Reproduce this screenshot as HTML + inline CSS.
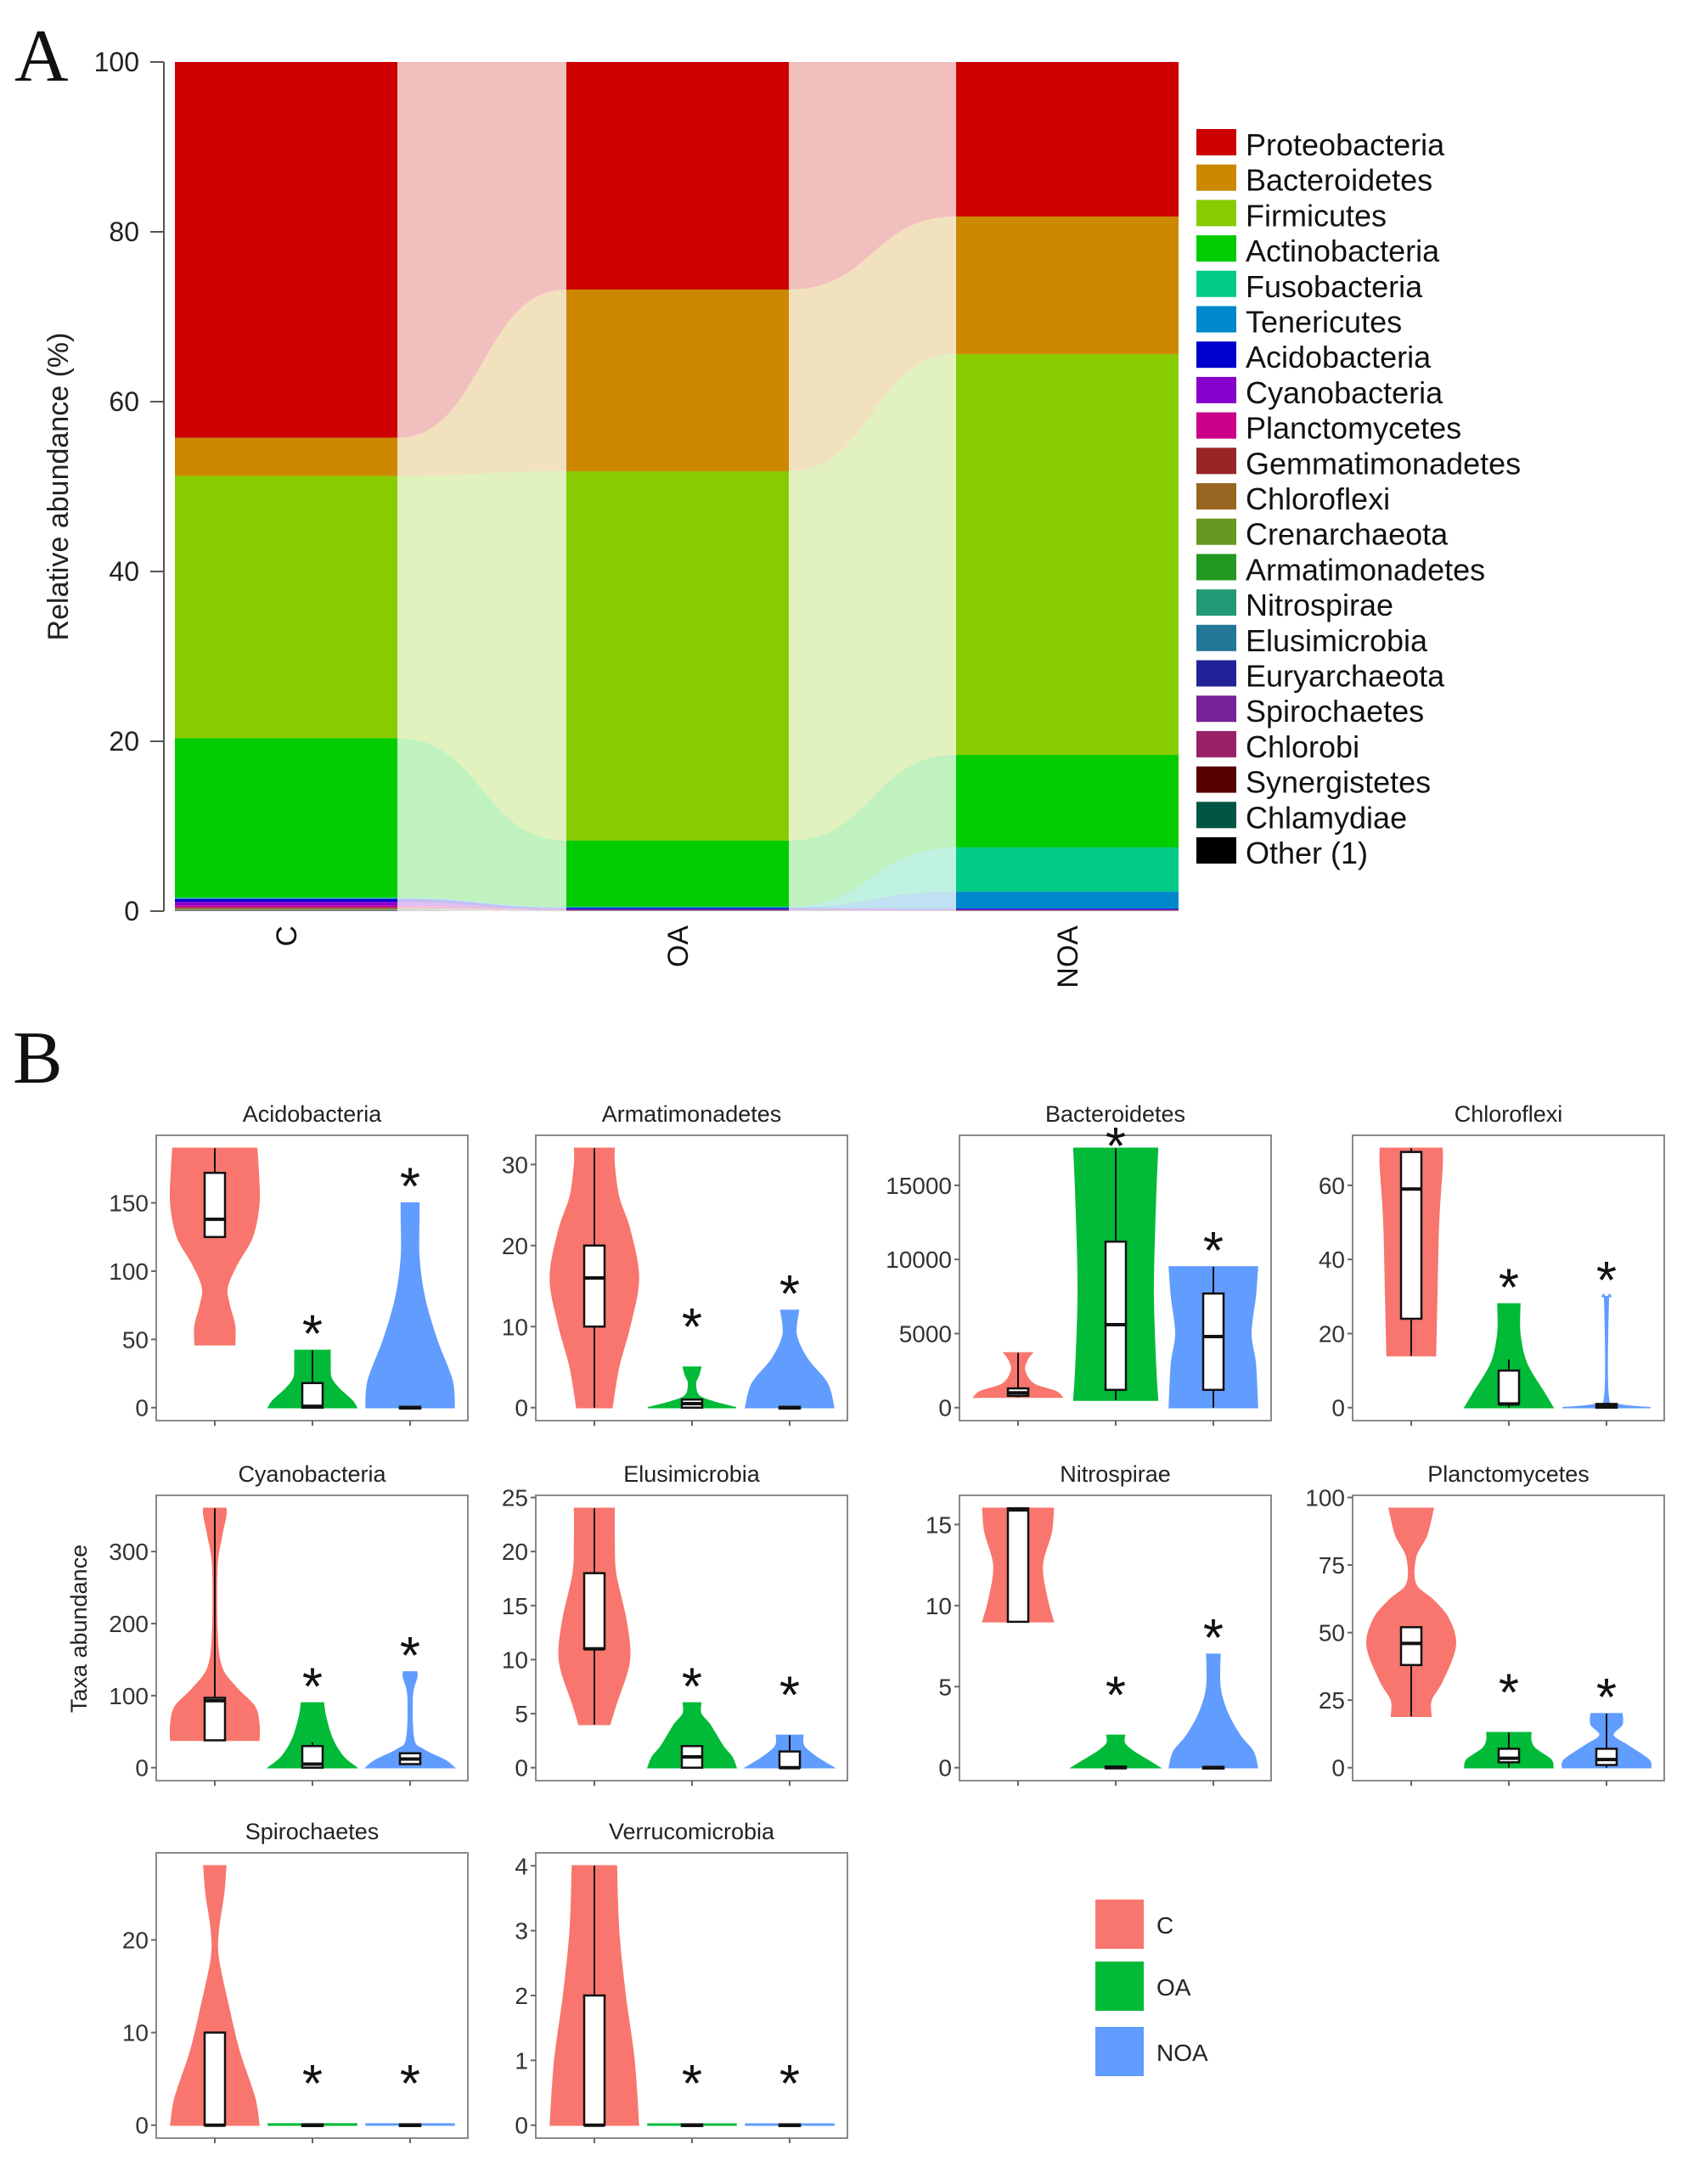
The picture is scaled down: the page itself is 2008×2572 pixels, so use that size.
<!DOCTYPE html>
<html><head><meta charset="utf-8">
<style>
html,body{margin:0;padding:0;background:#fff;}
svg{display:block;font-family:"Liberation Sans",sans-serif;}
</style></head>
<body>
<svg id="fig" width="2008" height="2572" viewBox="0 0 2008 2572" xmlns="http://www.w3.org/2000/svg">
<rect x="0" y="0" width="2008" height="2572" fill="#fff"/>
<text x="17" y="95" font-family="Liberation Serif,serif" font-size="88" fill="#111">A</text>
<text x="15" y="1275" font-family="Liberation Serif,serif" font-size="88" fill="#111">B</text>
<g id="panelA"></g>
<g id="panelB"></g>
</svg>
<script>
// ---------- Panel A data ----------
const groupsA = ["C","OA","NOA"];
const phyla = ["Proteobacteria","Bacteroidetes","Firmicutes","Actinobacteria","Fusobacteria","Tenericutes","Acidobacteria","Cyanobacteria","Planctomycetes","Gemmatimonadetes","Chloroflexi","Crenarchaeota","Armatimonadetes","Nitrospirae","Elusimicrobia","Euryarchaeota","Spirochaetes","Chlorobi","Synergistetes","Chlamydiae","Other (1)"];
const phylaColors = ["#CC0000","#CC8800","#88CC00","#00CC00","#00CC88","#0088CC","#0000CC","#8800CC","#CC0088","#992626","#996622","#669922","#229922","#229977","#227799","#222299","#772299","#992266","#550000","#005544","#000000"];
const valsC   = [44.3,4.5,30.9,18.8,0.05,0.1,0.35,0.45,0.2,0.1,0.1,0.05,0.05,0.02,0.02,0.02,0.02,0.02,0.02,0.01,0.0];
const valsOA  = [26.8,21.4,43.5,7.8,0.05,0.1,0.15,0.05,0.05,0.03,0.02,0.01,0.01,0.01,0.01,0.01,0.01,0.0,0.0,0.0,0.0];
const valsNOA = [18.2,16.2,47.2,10.9,5.2,2.0,0.1,0.05,0.05,0.03,0.02,0.01,0.01,0.01,0.01,0.0,0.0,0.0,0.0,0.0,0.0];
const yTicksA = [0,20,40,60,80,100];

// ---------- Panel B data ----------
const taxa = ["Acidobacteria","Armatimonadetes","Bacteroidetes","Chloroflexi","Cyanobacteria","Elusimicrobia","Nitrospirae","Planctomycetes","Spirochaetes","Verrucomicrobia"];
const ticksB = [[0,50,100,150],[0,10,20,30],[0,5000,10000,15000],[0,20,40,60],[0,100,200,300],[0,5,10,15,20,25],[0,5,10,15],[0,25,50,75,100],[0,10,20],[0,1,2,3,4]];
const violinC = [
 [[46,0.45],[60,0.45],[75,0.33],[88,0.28],[105,0.5],[125,0.85],[150,1],[175,0.98],[190,0.95]],
 [[0,0.4],[5,0.55],[10,0.8],[16,1],[22,0.8],[26,0.55],[30,0.45],[32,0.45]],
 [[700,1],[1100,0.85],[1600,0.35],[2500,0.15],[3200,0.2],[3700,0.32]],
 [[14,0.55],[30,0.58],[50,0.62],[65,0.7],[70,0.7]],
 [[38,1],[60,1],[85,0.9],[110,0.5],[140,0.15],[190,0.05],[280,0.05],[320,0.15],[350,0.25],[360,0.25]],
 [[4,0.35],[6,0.5],[9,0.75],[11,0.8],[14,0.7],[18,0.48],[21,0.45],[24,0.45]],
 [[9,0.8],[10.5,0.65],[12.5,0.55],[14.5,0.75],[16,0.8]],
 [[19,0.45],[25,0.45],[32,0.7],[45,1],[55,0.85],[62,0.5],[68,0.1],[78,0.1],[86,0.35],[96,0.5]],
 [[0,1],[3,0.9],[8,0.55],[13,0.3],[18,0.08],[21,0.08],[25,0.2],[28,0.25]],
 [[0,1],[1,0.9],[2,0.7],[3,0.55],[4,0.5]]
];
const violinOA = [
 [[0,1],[5,0.9],[14,0.6],[22,0.42],[32,0.4],[42,0.4]],
 [[0,1],[0.7,0.5],[1.5,0.15],[3,0.08],[4,0.15],[5,0.2]],
 [[500,0.95],[3000,0.9],[8000,0.85],[14000,0.9],[17500,0.95]],
 [[0,1],[4,0.8],[12,0.4],[20,0.25],[28,0.25]],
 [[0,1],[15,0.7],[40,0.45],[70,0.3],[90,0.25]],
 [[0,1],[1,0.9],[2,0.7],[4,0.4],[5,0.2],[6,0.2]],
 [[0,1],[0.5,0.7],[1,0.4],[1.5,0.2],[2,0.2]],
 [[0,1],[3,0.95],[7,0.6],[10,0.5],[13,0.5]],
 [[0,1],[0.15,1]],
 [[0,1],[0.02,1]]
];
const violinNOA = [
 [[0,1],[20,0.95],[50,0.6],[80,0.33],[110,0.2],[140,0.2],[150,0.2]],
 [[0,1],[3,0.85],[6,0.4],[9,0.15],[12,0.2]],
 [[0,1],[3000,0.95],[5000,0.85],[7500,0.95],[9500,1]],
 [[0,1],[0.8,0.3],[3,0.04],[28,0.04],[30,0.1]],
 [[0,1],[10,0.8],[25,0.3],[40,0.08],[100,0.05],[125,0.15],[133,0.15]],
 [[0,1],[1,0.6],[2,0.32],[3,0.3]],
 [[0,1],[1,0.9],[2,0.6],[3.5,0.3],[5,0.15],[7,0.15]],
 [[0,1],[3,0.95],[8,0.5],[12,0.15],[16,0.35],[20,0.35]],
 [[0,1],[0.15,1]],
 [[0,1],[0.02,1]]
];
// box stats: [whiskerLow, q1, median, q3, whiskerHigh]
const boxC   = [[125,125,138,172,190],[0,10,16,20,32],[700,800,1000,1300,3700],[14,24,59,69,70],[38,38,93,97,360],[4,11,11,18,24],[9,9,15.9,16,16],[19,38,46,52,52],[0,0,0,10,10],[0,0,0,2,4]];
const boxOA  = [[0,0,1,18,42],[0,0,0.5,1,1],[500,1200,5600,11200,17500],[0,1,1,10,13],[0,0,5,30,35],[0,0,1,2,2],[0,0,0,0.02,0],[0,2,3.5,7,13],[0,0,0,0,0],[0,0,0,0,0]];
const boxNOA = [[0,0,0,0,0],[0,0,0,0,0],[0,1200,4800,7700,9500],[0,0,0.5,1,1],[5,5,12,20,20],[0,0,0,1.5,3],[0,0,0,0,0],[0,1,3,7,20],[0,0,0,0,0],[0,0,0,0,0]];
const groupColors = ["#F8766D","#00BA38","#619CFF"];
const groupNames = ["C","OA","NOA"];

const NS="http://www.w3.org/2000/svg";
function mk(tag, attrs, parent){const e=document.createElementNS(NS,tag);for(const k in attrs)e.setAttribute(k,attrs[k]);parent.appendChild(e);return e;}
function smooth(pts){
  let s='';
  for(let i=0;i<pts.length-1;i++){
    const p0=pts[Math.max(i-1,0)],p1=pts[i],p2=pts[i+1],p3=pts[Math.min(i+2,pts.length-1)];
    const c1=[p1[0]+(p2[0]-p0[0])/6,p1[1]+(p2[1]-p0[1])/6];
    const c2=[p2[0]-(p3[0]-p1[0])/6,p2[1]-(p3[1]-p1[1])/6];
    s+=`C${c1[0]},${c1[1]} ${c2[0]},${c2[1]} ${p2[0]},${p2[1]} `;
  }
  return s;
}

// ================= Panel A =================
(function(){
 const g=document.getElementById('panelA');
 const y0=1073, y100=73;
 const yS=v=>y0-(v/100)*(y0-y100);
 const barX=[206,667,1126], barW=262;
 const series=[valsC,valsOA,valsNOA];
 const bounds=series.map(vals=>{
   const tot=vals.reduce((a,b)=>a+b,0);
   const res=[];let acc=0;
   for(let i=vals.length-1;i>=0;i--){const lo=acc;acc+=vals[i]*100/tot;res[i]=[lo,acc];}
   return res;});
 for(let b=0;b<2;b++){
   const xa=barX[b]+barW, xb=barX[b+1], xm=(xa+xb)/2;
   phyla.forEach((p,i)=>{
     const [l1,t1]=bounds[b][i],[l2,t2]=bounds[b+1][i];
     if(t1-l1<0.001&&t2-l2<0.001)return;
     const d=`M${xa},${yS(t1)} C${xm},${yS(t1)} ${xm},${yS(t2)} ${xb},${yS(t2)} L${xb},${yS(l2)} C${xm},${yS(l2)} ${xm},${yS(l1)} ${xa},${yS(l1)} Z`;
     const e=mk('path',{d:d,fill:phylaColors[i],'fill-opacity':0.25},g);
     
     
   });
 }
 series.forEach((vals,b)=>{
   phyla.forEach((p,i)=>{
     const [lo,hi]=bounds[b][i];
     if(hi-lo<=0)return;
     const e=mk('rect',{x:barX[b],y:yS(hi),width:barW,height:yS(lo)-yS(hi),fill:phylaColors[i]},g);
     
     
   });
   const t=mk('text',{x:0,y:0,'font-size':34,fill:'#111','text-anchor':'end',transform:`translate(${barX[b]+barW/2+12},1090) rotate(-90)`},g);
   t.textContent=groupsA[b];
   
   
 });
 const ax=mk('line',{x1:193,y1:y100,x2:193,y2:y0,stroke:'#555','stroke-width':2},g);
 
 
 yTicksA.forEach(v=>{
   const tk=mk('line',{x1:177,y1:yS(v),x2:193,y2:yS(v),stroke:'#555','stroke-width':2},g);
   
   
   const t=mk('text',{x:164,y:yS(v)+11,'font-size':32,fill:'#222','text-anchor':'end'},g);
   t.textContent=v;
   
   
 });
 const yt=mk('text',{x:0,y:0,'font-size':34,fill:'#222','text-anchor':'middle',transform:'translate(80,573) rotate(-90)'},g);
 yt.textContent='Relative abundance (%)';
 
 
 phyla.forEach((p,i)=>{
   const yy=152+41.7*i;
   const r=mk('rect',{x:1409,y:yy,width:47,height:31,fill:phylaColors[i]},g);
   
   
   const t=mk('text',{x:1467,y:yy+31,'font-size':36,fill:'#111'},g);
   t.textContent=p;
   
   
 });
})();

// ================= Panel B =================
(function(){
 const g=document.getElementById('panelB');
 const colX=[184,631,1130,1593], rowY=[1337,1761,2182];
 const PW=367, PH=336, catOff=[69,184,299], HW=52, BW=12;
 taxa.forEach((name,k)=>{
   const col=k%4,row=Math.floor(k/4);
   const px=colX[col], py=rowY[k<8?row:2];
   const pg=mk('g',{},g);
   
   
   const profs=[violinC[k],violinOA[k],violinNOA[k]], boxes=[boxC[k],boxOA[k],boxNOA[k]];
   let mn=Infinity,mx=-Infinity;
   profs.forEach(pr=>pr.forEach(([v])=>{mn=Math.min(mn,v);mx=Math.max(mx,v);}));
   const r=mx-mn, lo=mn-0.05*r, hi=mx+0.05*r;
   const yS=v=>py+PH-(v-lo)/(hi-lo)*PH;
   const fr=mk('rect',{x:px,y:py,width:PW,height:PH,fill:'#fff',stroke:'#8a8a8a','stroke-width':2},pg);
   
   
   const tt=mk('text',{x:px+PW/2,y:py-16,'font-size':27,fill:'#222','text-anchor':'middle'},pg);
   tt.textContent=name;
   
   
   ticksB[k].forEach(v=>{
     const tk=mk('line',{x1:px-6,y1:yS(v),x2:px,y2:yS(v),stroke:'#666','stroke-width':2},pg);
     
     
     const t=mk('text',{x:px-9,y:yS(v)+10,'font-size':28,fill:'#333','text-anchor':'end'},pg);
     t.textContent=v;
     
     
   });
   catOff.forEach((o,gi)=>{
     const cx=px+o;
     const tk=mk('line',{x1:cx,y1:py+PH,x2:cx,y2:py+PH+6,stroke:'#666','stroke-width':2},pg);
     
     
     const pr=profs[gi];
     const rp=pr.map(([v,w])=>[cx+w*HW,yS(v)]);
     const lp=pr.slice().reverse().map(([v,w])=>[cx-w*HW,yS(v)]);
     const d=`M${rp[0][0]},${rp[0][1]} `+smooth(rp)+`L${lp[0][0]},${lp[0][1]} `+smooth(lp)+'Z';
     const vp=mk('path',{d:d,fill:groupColors[gi],stroke:groupColors[gi],'stroke-width':1.5},pg);
     
     
     const b=boxes[gi];
     const wl=mk('line',{x1:cx,y1:yS(b[0]),x2:cx,y2:yS(b[4]),stroke:'#111','stroke-width':2},pg);
     
     
     const bh=Math.max(yS(b[1])-yS(b[3]),2);
     const br=mk('rect',{x:cx-BW,y:yS(b[3])-(bh===2?1:0),width:BW*2,height:bh,fill:'#fff',stroke:'#111','stroke-width':2.5},pg);
     
     
     const md=mk('line',{x1:cx-BW,y1:yS(b[2]),x2:cx+BW,y2:yS(b[2]),stroke:'#111','stroke-width':4},pg);
     
     
     if(gi>0){
       let top=Math.max(...pr.map(p=>p[0]));
       let sy=yS(top)-2;
       if(top-lo<0.2*(hi-lo))sy=yS(top)-30;
       sy=Math.max(sy,py+30);
       const st=mk('text',{x:cx,y:sy+4,'font-size':62,fill:'#111','text-anchor':'middle'},pg);
       st.textContent='*';
       
       
     }
   });
 });
 const yt=mk('text',{x:0,y:0,'font-size':27,fill:'#222','text-anchor':'middle',transform:'translate(102,1918) rotate(-90)'},g);
 yt.textContent='Taxa abundance';
 
 
 const ly=[2237,2310,2387];
 groupNames.forEach((n,i)=>{
   const r=mk('rect',{x:1290,y:ly[i],width:57,height:58,fill:groupColors[i]},g);
   
   
   const t=mk('text',{x:1362,y:ly[i]+40,'font-size':28,fill:'#222'},g);
   t.textContent=n;
   
   
 });
})();
</script>
</body></html>
